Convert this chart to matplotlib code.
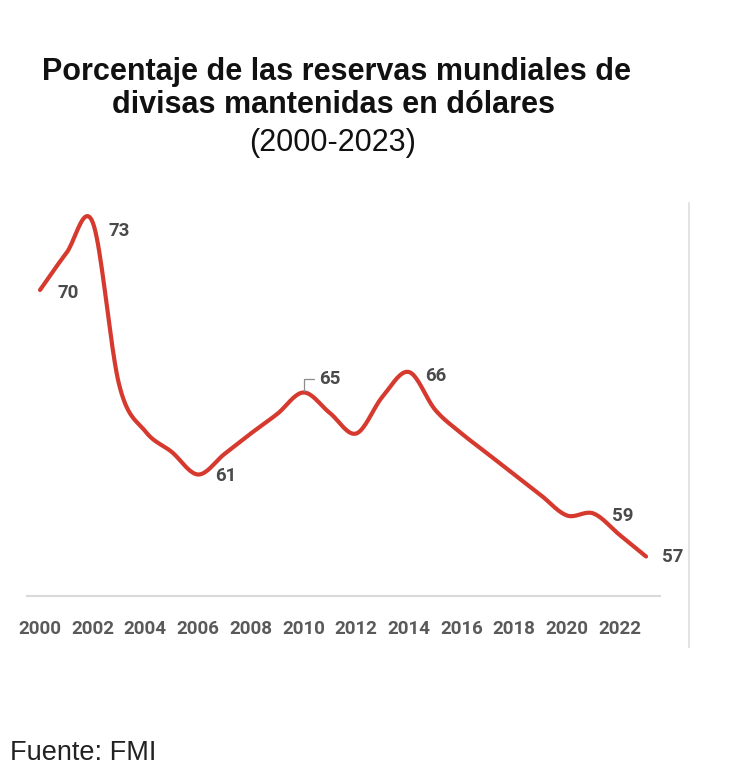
import matplotlib
matplotlib.use("Agg")
import matplotlib.pyplot as plt
from matplotlib.lines import Line2D
import numpy as np

years = list(range(2000, 2024))
share_usd = [70.0, 71.8, 73.3, 65.4, 63.1, 62.1, 61.0, 62.0, 63.0, 63.95,
             65.0, 64.0, 63.0, 64.8, 66.0, 64.15, 63.0, 62.0, 61.0, 60.0,
             59.0, 59.1, 58.05, 57.0]
tick_years = list(range(2000, 2023, 2))

# labelled points: year -> text
labels = {2000: "70", 2002: "73", 2006: "61", 2010: "65", 2014: "66",
          2021: "59", 2023: "57"}
label_offsets = {2000: (20, -2), 2002: (19, -6), 2006: (20, -1),
                 2010: (19, 10), 2014: (19, -3), 2021: (21, -1.5),
                 2023: (19, 0)}

RED = "#d63a2f"
GRAY = "#4a4a4a"
NUM_FONT = ["Liberation Sans Narrow", "Roboto", "DejaVu Sans"]


def smooth(x, y, n=20):
    # Catmull-Rom spline through the yearly points (Excel-style smoothed line)
    x = np.asarray(x, float)
    y = np.asarray(y, float)
    px = np.concatenate([[2 * x[0] - x[1]], x, [2 * x[-1] - x[-2]]])
    py = np.concatenate([[2 * y[0] - y[1]], y, [2 * y[-1] - y[-2]]])
    xs, ys = [], []
    t = np.linspace(0, 1, n, endpoint=False)
    for i in range(1, len(px) - 2):
        for p, out in ((px, xs), (py, ys)):
            p0, p1, p2, p3 = p[i - 1], p[i], p[i + 1], p[i + 2]
            out.extend(0.5 * (2 * p1 + (-p0 + p2) * t
                              + (2 * p0 - 5 * p1 + 4 * p2 - p3) * t ** 2
                              + (-p0 + 3 * p1 - 3 * p2 + p3) * t ** 3))
    xs.append(x[-1])
    ys.append(y[-1])
    return np.array(xs), np.array(ys)


fig = plt.figure(figsize=(7.44, 7.80), dpi=100)
ax = fig.add_axes([27 / 744, 1 - 596 / 780, 633 / 744, 393 / 780])

sx, sy = smooth(years, share_usd)
ax.plot(sx, sy, color=RED, linewidth=3.0, solid_capstyle="round")

for yr, txt in labels.items():
    val = share_usd[years.index(yr)]
    kw = {}
    if yr == 2010:
        kw["arrowprops"] = dict(arrowstyle="-", color="#8c8c8c", lw=0.9,
                                connectionstyle="angle,angleA=0,angleB=90",
                                relpos=(0, 0.5), shrinkA=2, shrinkB=1)
    ax.annotate(txt, (yr, val), xytext=label_offsets[yr],
                textcoords="offset points", ha="center", va="center",
                fontsize=13.5, fontweight="bold", color=GRAY,
                family=NUM_FONT, **kw)

ax.set_xlim(2000 - 13 / 26.35, 2000 + 620 / 26.35)
ax.set_ylim(70 - 306 / 20.5, 70 + 87 / 20.5)
ax.set_xticks(tick_years)
ax.set_xticklabels([str(y) for y in tick_years], fontsize=13.5,
                   fontweight="bold", color="#5a5a5a", family=NUM_FONT)
ax.tick_params(axis="x", length=0, pad=17)
ax.set_yticks([])
for side in ["top", "left", "right"]:
    ax.spines[side].set_visible(False)
ax.spines["bottom"].set_color("#d9d9d9")
ax.spines["bottom"].set_linewidth(1.5)

# light vertical frame line on the right
fig.add_artist(Line2D([689 / 744, 689 / 744], [1 - 203 / 780, 1 - 647 / 780],
                      color="#dedede", linewidth=1.2))

fig.text(336 / 744, 1 - 80 / 780, "Porcentaje de las reservas mundiales de",
         ha="center", va="baseline", fontsize=22, fontweight="bold",
         family="Liberation Sans", color="#111111")
fig.text(334 / 744, 1 - 113 / 780, "divisas mantenidas en dólares",
         ha="center", va="baseline", fontsize=22, fontweight="bold",
         family="Liberation Sans", color="#111111")
fig.text(333 / 744, 1 - 151 / 780, "(2000-2023)",
         ha="center", va="baseline", fontsize=22,
         family="Liberation Sans", color="#111111")
fig.text(10 / 744, 1 - 760 / 780, "Fuente: FMI", ha="left", va="baseline",
         fontsize=19.5, family="Liberation Sans", color="#222222")

fig.savefig("out.png", dpi=100)
